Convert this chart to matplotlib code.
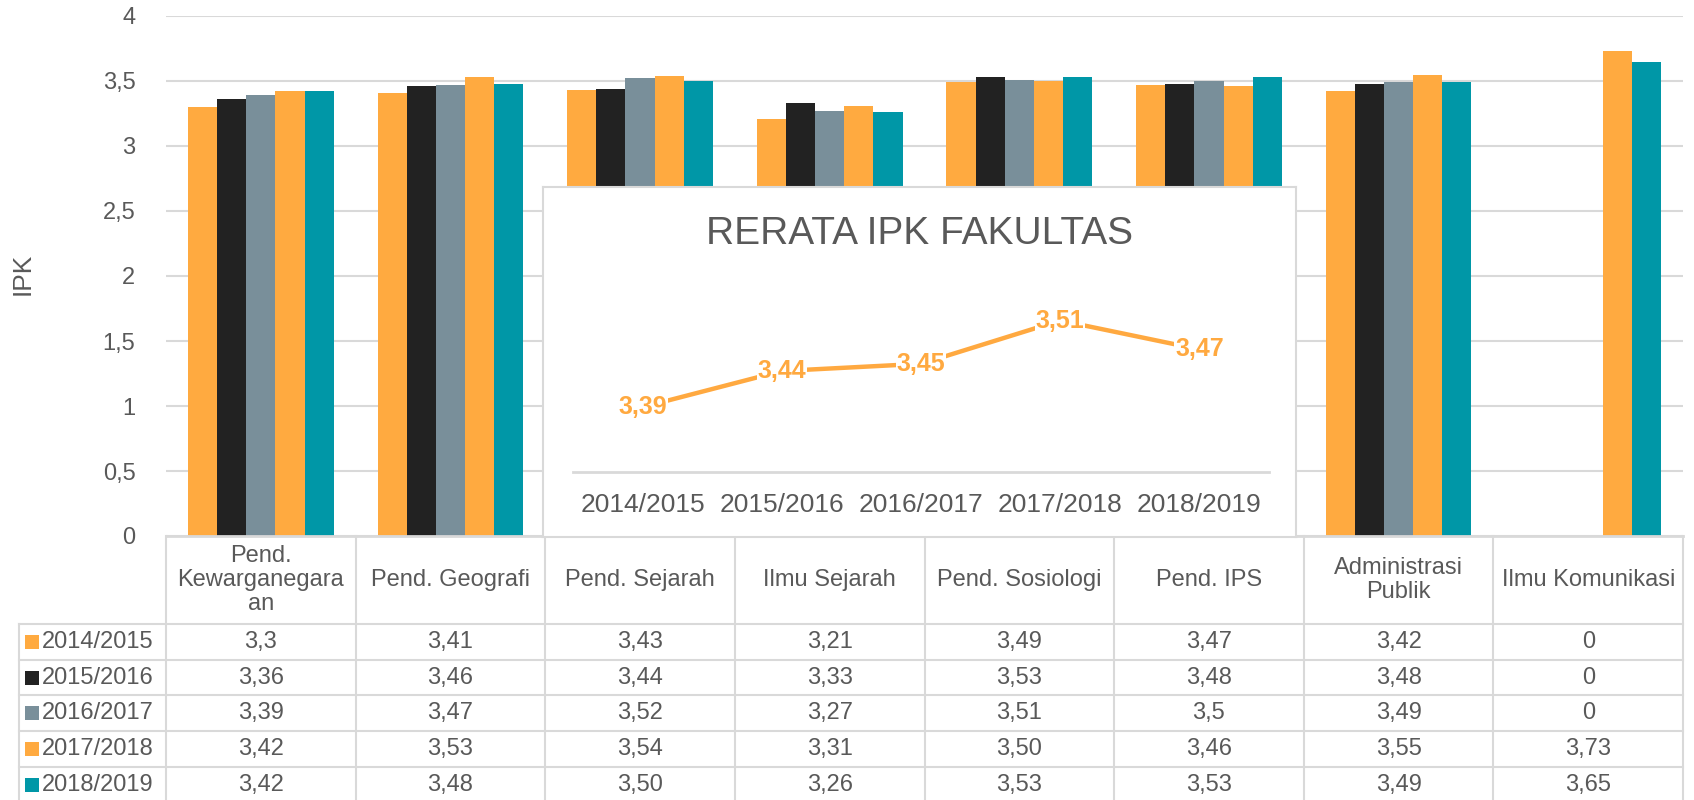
import matplotlib
matplotlib.use("Agg")
import matplotlib.pyplot as plt
import numpy as np

plt.rcParams["font.family"] = ["Liberation Sans", "DejaVu Sans"]

# data
prodi = ["Pend.\nKewarganegara\nan", "Pend. Geografi", "Pend. Sejarah", "Ilmu Sejarah",
         "Pend. Sosiologi", "Pend. IPS", "Administrasi\nPublik", "Ilmu Komunikasi"]
tahun = ["2014/2015", "2015/2016", "2016/2017", "2017/2018", "2018/2019"]
ipk_1415 = [3.30, 3.41, 3.43, 3.21, 3.49, 3.47, 3.42, 0]
ipk_1516 = [3.36, 3.46, 3.44, 3.33, 3.53, 3.48, 3.48, 0]
ipk_1617 = [3.39, 3.47, 3.52, 3.27, 3.51, 3.50, 3.49, 0]
ipk_1718 = [3.42, 3.53, 3.54, 3.31, 3.50, 3.46, 3.55, 3.73]
ipk_1819 = [3.42, 3.48, 3.50, 3.26, 3.53, 3.53, 3.49, 3.65]
# labels as printed in the table
tabel_text = [
    ["3,3", "3,41", "3,43", "3,21", "3,49", "3,47", "3,42", "0"],
    ["3,36", "3,46", "3,44", "3,33", "3,53", "3,48", "3,48", "0"],
    ["3,39", "3,47", "3,52", "3,27", "3,51", "3,5", "3,49", "0"],
    ["3,42", "3,53", "3,54", "3,31", "3,50", "3,46", "3,55", "3,73"],
    ["3,42", "3,48", "3,50", "3,26", "3,53", "3,53", "3,49", "3,65"],
]
rerata = [3.39, 3.44, 3.45, 3.51, 3.47]
rerata_label = ["3,39", "3,44", "3,45", "3,51", "3,47"]

colors = ["#FFAA40", "#222222", "#798F9A", "#FFAA40", "#0097A7"]
series = [ipk_1415, ipk_1516, ipk_1617, ipk_1718, ipk_1819]
grey_txt = "#595959"
line_col = "#D9D9D9"

W, H = 1694, 800
def box(l, t, r, b):
    return [l / W, 1 - b / H, (r - l) / W, (b - t) / H]

fig = plt.figure(figsize=(W / 100, H / 100), dpi=100)

# main bar chart
ax = fig.add_axes(box(166, 16, 1683, 536))
x = np.arange(len(prodi))
w = 1 / 6.5
for i, vals in enumerate(series):
    ax.bar(x + (i - 2) * w, vals, width=w, color=colors[i], zorder=2)
ax.set_xlim(-0.5, len(prodi) - 0.5)
ax.set_ylim(0, 4)
ax.set_yticks(np.arange(0, 4.01, 0.5))
ax.set_yticklabels([f"{v:g}".replace(".", ",") for v in np.arange(0, 4.01, 0.5)])
ax.tick_params(axis="y", length=0, pad=22, labelsize=17, labelcolor=grey_txt)
ax.set_xticks([])
ax.yaxis.grid(True, color=line_col, lw=1.5, zorder=0)
ax.set_axisbelow(True)
for s in ax.spines.values():
    s.set_visible(False)
fig.text(22.5 / W, 1 - 274 / H, "IPK", rotation=90, ha="center", va="center",
         fontsize=19, color=grey_txt)

# data table under the chart
ax_t = fig.add_axes(box(166, 536, 1683, 800))
ax_t.set_xlim(-0.5, len(prodi) - 0.5)
ax_t.set_ylim(264, 0)
ax_t.axis("off")
ppu = (1683 - 166) / len(prodi)
lx = -0.5 - (166 - 19) / ppu
hdr = 88
rh = 35.7
n_rows = len(tahun)
bottom = hdr + rh * n_rows
ax_t.plot([-0.5, len(prodi) - 0.5], [0, 0], color=line_col, lw=2, clip_on=False)
for k in range(len(prodi) + 1):
    ax_t.plot([k - 0.5, k - 0.5], [0, bottom], color=line_col, lw=1.5, clip_on=False)
ax_t.plot([lx, lx], [hdr, bottom], color=line_col, lw=1.5, clip_on=False)
for r in range(n_rows + 1):
    ax_t.plot([lx, len(prodi) - 0.5], [hdr + r * rh] * 2, color=line_col, lw=1.5,
              clip_on=False)
for j, name in enumerate(prodi):
    ax_t.text(j, hdr / 2, name, ha="center", va="center", fontsize=17, color=grey_txt,
              linespacing=1.1)
for r in range(n_rows):
    yc = hdr + (r + 0.5) * rh
    ax_t.scatter([-0.5 - (166 - 32.5) / ppu], [yc], marker="s", s=88, color=colors[r],
                 clip_on=False, zorder=3, linewidths=0)
    ax_t.text(-0.5 - (166 - 42) / ppu, yc, tahun[r], ha="left", va="center",
              fontsize=17, color=grey_txt)
    for j in range(len(prodi)):
        ax_t.text(j, yc, tabel_text[r][j], ha="center", va="center", fontsize=17,
                  color=grey_txt)

# inset: faculty average
ax_box = fig.add_axes(box(543, 187, 1296, 537), zorder=5)
ax_box.set_xticks([])
ax_box.set_yticks([])
for s in ax_box.spines.values():
    s.set_color(line_col)
    s.set_linewidth(1.5)
ax_box.text(0.5, (537 - 234) / 350, "RERATA IPK FAKULTAS", ha="center", va="center",
            fontsize=28, color=grey_txt, transform=ax_box.transAxes)

ax_in = fig.add_axes(box(573, 270, 1269, 472), zorder=6)
ax_in.patch.set_alpha(0)
xi = np.arange(len(tahun))
ax_in.plot(xi, rerata, color="#FFA940", lw=3.2, solid_capstyle="round")
for xv, yv, lab in zip(xi, rerata, rerata_label):
    ax_in.text(xv, yv, lab, ha="center", va="center", fontsize=18, fontweight="bold",
               color="#FFA940",
               bbox=dict(facecolor="white", edgecolor="none", pad=0.5))
ax_in.set_xlim(-0.5, len(tahun) - 0.5)
ax_in.set_ylim(3.30, 3.58)
ax_in.set_xticks(xi)
ax_in.set_xticklabels(tahun)
ax_in.set_yticks([])
ax_in.tick_params(axis="x", length=0, pad=15, labelsize=19, labelcolor=grey_txt)
for k in ["top", "right", "left"]:
    ax_in.spines[k].set_visible(False)
ax_in.spines["bottom"].set_color(line_col)
ax_in.spines["bottom"].set_linewidth(2)

fig.savefig("out.png", dpi=100)
